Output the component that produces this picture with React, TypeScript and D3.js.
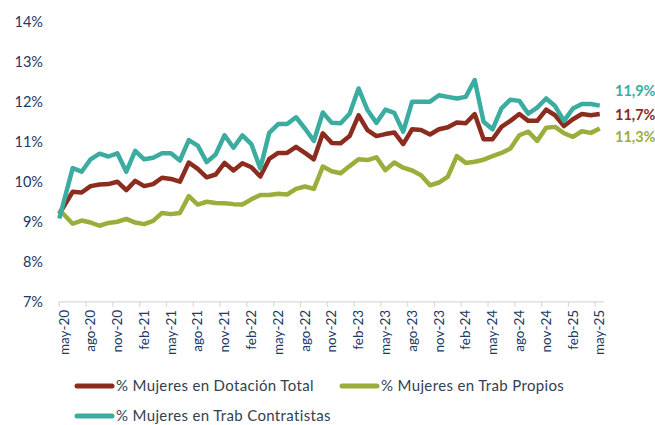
import React from "react";
import * as d3 from "d3";

// Month categories (may-20 .. may-25)
const monthNames = ["ene", "feb", "mar", "abr", "may", "jun", "jul", "ago", "sep", "oct", "nov", "dic"];
const startYear = 2020;
const startMonth = 4; // may
const nMonths = 61;
const categories: string[] = Array.from({ length: nMonths }, (_, i) => {
  const m = (startMonth + i) % 12;
  const y = startYear + Math.floor((startMonth + i) / 12);
  return `${monthNames[m]}-${String(y).slice(2)}`;
});

const yTicks = [7, 8, 9, 10, 11, 12, 13, 14];

const totalSeries = [
  9.2, 9.75, 9.73, 9.89, 9.93, 9.94, 10.0, 9.79, 10.02, 9.89, 9.94, 10.1, 10.07,
  10.0, 10.48, 10.32, 10.11, 10.18, 10.47, 10.28, 10.46, 10.36, 10.13, 10.57, 10.72,
  10.72, 10.87, 10.72, 10.56, 11.21, 10.97, 10.96, 11.14, 11.66, 11.29, 11.14, 11.19,
  11.23, 10.94, 11.31, 11.29, 11.18, 11.31, 11.36, 11.48, 11.46, 11.69, 11.06, 11.06,
  11.37, 11.52, 11.69, 11.52, 11.52, 11.8, 11.66, 11.39, 11.56, 11.69, 11.66, 11.69,
];

const propiosSeries = [
  9.3, 8.95, 9.03, 8.98, 8.9, 8.97, 9.0, 9.07, 8.98, 8.94, 9.02, 9.22, 9.19,
  9.22, 9.64, 9.43, 9.5, 9.47, 9.46, 9.44, 9.43, 9.56, 9.67, 9.67, 9.7,
  9.68, 9.82, 9.88, 9.82, 10.38, 10.26, 10.21, 10.39, 10.56, 10.54, 10.61, 10.29,
  10.48, 10.35, 10.28, 10.16, 9.91, 9.98, 10.13, 10.64, 10.47, 10.5, 10.55, 10.64,
  10.72, 10.83, 11.16, 11.25, 11.02, 11.35, 11.37, 11.21, 11.12, 11.26, 11.22, 11.33,
];

const contratistasSeries = [
  9.08, 10.34, 10.25, 10.56, 10.7, 10.63, 10.71, 10.25, 10.77, 10.56, 10.6, 10.71, 10.71,
  10.53, 11.04, 10.9, 10.49, 10.68, 11.16, 10.85, 11.16, 10.94, 10.33, 11.22, 11.44,
  11.44, 11.61, 11.33, 11.02, 11.73, 11.47, 11.46, 11.7, 12.33, 11.79, 11.47, 11.8,
  11.72, 11.25, 12.0, 12.0, 12.0, 12.16, 12.12, 12.08, 12.12, 12.54, 11.5, 11.31,
  11.83, 12.05, 12.02, 11.7, 11.85, 12.08, 11.89, 11.52, 11.83, 11.94, 11.94, 11.9,
];

const seriesNames = [
  "% Mujeres en Dotación Total",
  "% Mujeres en Trab Propios",
  "% Mujeres en Trab Contratistas",
];
const seriesColors = ["#8B2C1F", "#9AAE3B", "#3AADA0"];
const endLabels = ["11,7%", "11,3%", "11,9%"];

const W = 655;
const H = 425;

export default function App() {
  const x = d3.scaleLinear().domain([0, nMonths]).range([59.3, 604.2]);
  const y = d3.scaleLinear().domain([7, 14]).range([301.8, 21.6]);
  const pos = (i: number) => (i === 0 ? 0 : i + 0.5);

  const line = d3
    .line<number>()
    .x((_, i) => x(pos(i)))
    .y((d) => y(d));

  const allSeries = [totalSeries, propiosSeries, contratistasSeries];
  const tickIdx = categories.map((_, i) => i).filter((i) => i % 3 === 0);
  const labelOffsets = [1, 8, -15];
  const axisColor = "#203864";
  const font = "Lato, 'Open Sans', sans-serif";

  return (
    <svg
      width={W}
      height={H}
      style={{ position: "absolute", left: 0, top: 0, background: "#fff", display: "block" }}
      fontFamily={font}
    >
      {/* y labels */}
      {yTicks.map((t) => (
        <text
          key={t}
          x={43}
          y={y(t)}
          dy="0.35em"
          textAnchor="end"
          fontSize={14.5}
          fill={axisColor}
        >
          {`${t}%`}
        </text>
      ))}

      {/* x axis */}
      <line x1={x(0)} x2={x(nMonths)} y1={y(7)} y2={y(7)} stroke="#D9D9D9" strokeWidth={1.2} />
      {tickIdx.map((i) => (
        <line key={"t" + i} x1={x(i)} x2={x(i)} y1={y(7)} y2={y(7) + 5} stroke="#D9D9D9" strokeWidth={1.2} />
      ))}
      {tickIdx.map((i) => (
        <text
          key={"l" + i}
          transform={`translate(${x(i + 0.5)},${y(7) + 8}) rotate(-90)`}
          dy="0.35em"
          textAnchor="end"
          fontSize={13.5}
          fill={axisColor}
        >
          {categories[i]}
        </text>
      ))}

      {/* series lines */}
      {allSeries.map((s, k) => (
        <path
          key={k}
          d={line(s) || ""}
          fill="none"
          stroke={seriesColors[k]}
          strokeWidth={4.5}
          strokeLinejoin="round"
        />
      ))}

      {/* end labels */}
      {allSeries.map((s, k) => (
        <text
          key={"e" + k}
          x={615}
          y={y(s[s.length - 1]) + labelOffsets[k]}
          dy="0.35em"
          fontSize={14.5}
          fontWeight={700}
          fill={seriesColors[k]}
        >
          {endLabels[k]}
        </text>
      ))}

      {/* legend */}
      {[
        { k: 0, lx: 75, ly: 386 },
        { k: 1, lx: 340, ly: 386 },
        { k: 2, lx: 75, ly: 416 },
      ].map(({ k, lx, ly }) => (
        <g key={"lg" + k}>
          <line x1={lx + 2} x2={lx + 37} y1={ly} y2={ly} stroke={seriesColors[k]} strokeWidth={5} strokeLinecap="round" />
          <text x={lx + 41} y={ly} dy="0.35em" fontSize={15} letterSpacing={0.35} fill="#333F50">
            {seriesNames[k]}
          </text>
        </g>
      ))}
    </svg>
  );
}
